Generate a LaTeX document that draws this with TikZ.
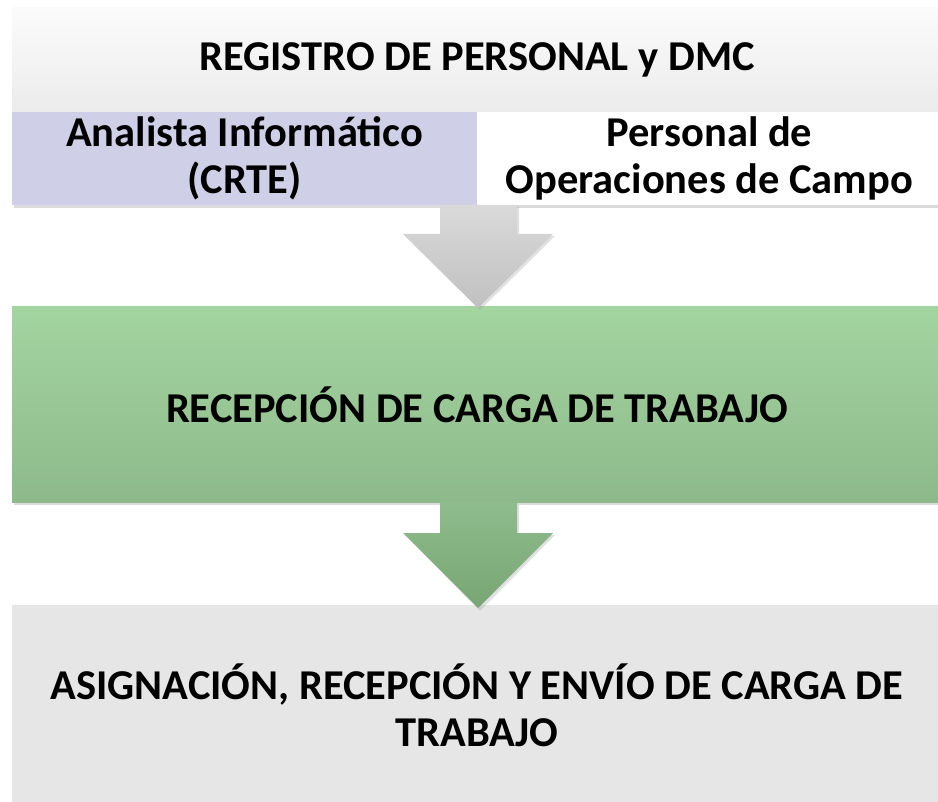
\documentclass[tikz,border=0pt]{standalone}
\usepackage{fontspec}
\setmainfont{Carlito}
\usetikzlibrary{calc}
\definecolor{topA}{HTML}{FBFBFB}
\definecolor{topB}{HTML}{EBEBEB}
\definecolor{lav}{HTML}{CFCFE8}
\definecolor{greenA}{HTML}{A3D5A0}
\definecolor{greenB}{HTML}{8EBA8B}
\definecolor{greyA}{HTML}{DADADA}
\definecolor{greyB}{HTML}{C0C0C0}
\definecolor{garA}{HTML}{8FBC8C}
\definecolor{garB}{HTML}{77A574}
\definecolor{botC}{HTML}{E6E6E6}
\definecolor{shadowc}{HTML}{9A9A9A}
\begin{document}
\begin{tikzpicture}[x=1pt,y=-1pt,
  box/.style={rectangle, inner sep=0pt, outer sep=0pt, align=center,
    font=\fontsize{42.5}{47}\selectfont\bfseries},
  softshadow/.style={fill=shadowc, opacity=0.35},
  blockarrow/.style={draw=none}
]
\useasboundingbox (0,0) rectangle (938,802);
\fill[white] (0,0) rectangle (938,802);

% shadows
\fill[softshadow] (14,14) rectangle (942,208);
\fill[softshadow] (14,313) rectangle (942,505);
\fill[softshadow] (14,611) rectangle (942,810);

% top block
\node[box, minimum width=930pt, minimum height=104pt,
      shading=axis, top color=topA, bottom color=topB] (top) at (477,60)
      {REGISTRO DE PERSONAL y DMC};
\node[box, minimum width=465pt, minimum height=93pt, fill=lav,
      anchor=north west] (sub1) at (top.south west)
      {Analista Informático\\(CRTE)};
\node[box, minimum width=465pt, minimum height=93pt, fill=white,
      anchor=north west] (sub2) at (sub1.north east)
      {Personal de\\Operaciones de Campo};

% middle block
\node[box, minimum width=930pt, minimum height=195pt,
      shading=axis, top color=greenA, bottom color=greenB] (mid) at (477,404.5)
      {RECEPCIÓN DE CARGA DE TRABAJO};

% bottom block
\node[box, minimum width=930pt, minimum height=200pt, fill=botC] (bot) at (477,705)
      {ASIGNACIÓN, RECEPCIÓN Y ENVÍO DE CARGA DE\\TRABAJO};

% arrow 1
\coordinate (a1s) at ($(sub1.south east)+(1,0)$);
\coordinate (a1e) at (a1s |- mid.north);
\fill[shadowc, opacity=0.3]
  ($(a1s)+(-37,2)$) -- ($(a1s)+(41,2)$) -- ($(a1s)+(41,31)$) -- ($(a1s)+(77,31)$)
  -- ($(a1e)+(2,3)$) -- ($(a1s)+(-73,31)$) -- ($(a1s)+(-37,31)$) -- cycle;
\shade[blockarrow, top color=greyA, bottom color=greyB]
  ($(a1s)+(-38,0)$) -- ($(a1s)+(39,0)$) -- ($(a1s)+(39,29)$) -- ($(a1s)+(75,29)$)
  -- ($(a1e)+(0,1)$) -- ($(a1s)+(-75,29)$) -- ($(a1s)+(-38,29)$) -- cycle;

% arrow 2
\coordinate (a2s) at ($(mid.south)+(1,1)$);
\coordinate (a2e) at ($(a2s |- bot.north)+(0,3)$);
\fill[shadowc, opacity=0.3]
  ($(a2s)+(-37,2)$) -- ($(a2s)+(41,2)$) -- ($(a2s)+(41,32)$) -- ($(a2s)+(77,32)$)
  -- ($(a2e)+(2,3)$) -- ($(a2s)+(-73,32)$) -- ($(a2s)+(-37,32)$) -- cycle;
\shade[blockarrow, top color=garA, bottom color=garB]
  ($(a2s)+(-38,0)$) -- ($(a2s)+(39,0)$) -- ($(a2s)+(39,30)$) -- ($(a2s)+(75,30)$)
  -- (a2e) -- ($(a2s)+(-75,30)$) -- ($(a2s)+(-38,30)$) -- cycle;
\end{tikzpicture}
\end{document}
